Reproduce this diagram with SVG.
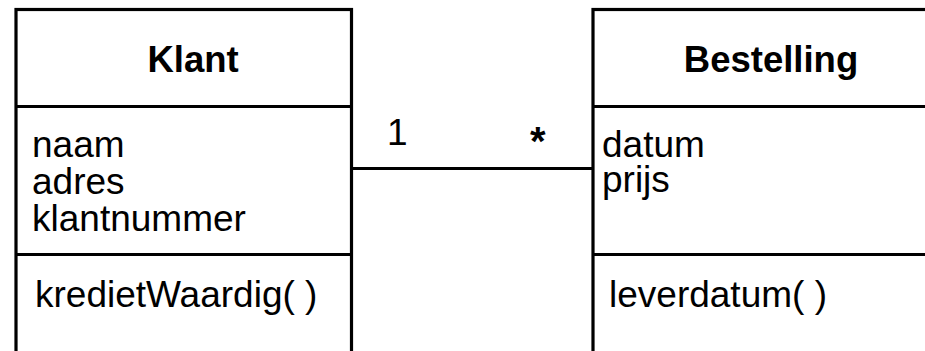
<svg xmlns="http://www.w3.org/2000/svg" width="925" height="351" viewBox="0 0 925 351">
  <style>
    .box { fill: #ffffff; stroke: #000000; stroke-width: 3.2; }
    .div { stroke: #000000; stroke-width: 3.2; }
    .title { font-family: "Liberation Sans", Arial, sans-serif; font-weight: bold; font-size: 36.5px; fill: #000000; text-anchor: middle; }
    .txt { font-family: "Liberation Sans", Arial, sans-serif; font-size: 37px; fill: #000000; }
    .mult { font-family: "Liberation Sans", Arial, sans-serif; font-weight: bold; font-size: 40px; fill: #000000; }
    .edge { stroke: #000000; stroke-width: 3.2; fill: none; }
  </style>
  <rect width="925" height="351" fill="#ffffff"/>

  <!-- association -->
  <g id="connectors">
    <line class="edge" x1="351" y1="168.5" x2="593" y2="168.5"/>
    <text class="txt" x="387" y="145">1</text>
    <text class="mult" x="530" y="155">*</text>
  </g>

  <!-- class Klant -->
  <g id="klant">
    <rect class="box" x="16" y="9.5" width="335.5" height="360"/>
    <line class="div" x1="16" y1="106.5" x2="351.5" y2="106.5"/>
    <line class="div" x1="16" y1="254.5" x2="351.5" y2="254.5"/>
    <text class="title" x="193" y="72">Klant</text>
    <text class="txt" x="32" y="157">naam</text>
    <text class="txt" x="32" y="194">adres</text>
    <text class="txt" x="32" y="231">klantnummer</text>
    <text class="txt" x="35" y="307">kredietWaardig( )</text>
  </g>

  <!-- class Bestelling -->
  <g id="bestelling">
    <rect class="box" x="593" y="9.5" width="360" height="360"/>
    <line class="div" x1="593" y1="106.5" x2="925" y2="106.5"/>
    <line class="div" x1="593" y1="254.5" x2="925" y2="254.5"/>
    <text class="title" x="771" y="72">Bestelling</text>
    <text class="txt" x="602" y="157">datum</text>
    <text class="txt" x="602" y="192">prijs</text>
    <text class="txt" x="609" y="307">leverdatum( )</text>
  </g>
</svg>
